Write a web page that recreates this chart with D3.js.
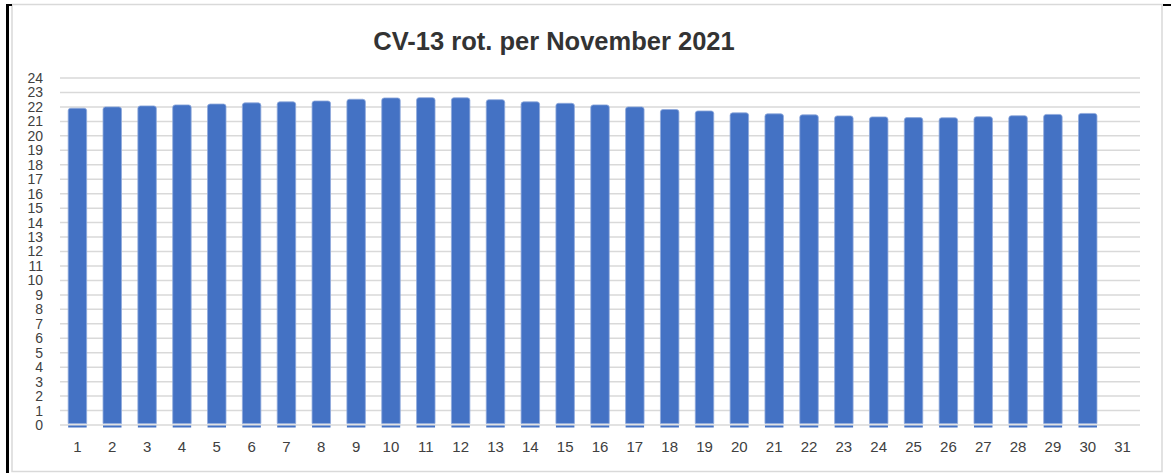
<!DOCTYPE html>
<meta charset="utf-8">
<style>
  body { margin: 0; background: #fff; }
  .axis text { font-family: "Liberation Sans", sans-serif; fill: #404040; }
  .y.axis text { font-size: 14px; }
  .x.axis text { font-size: 15px; }
  .axis path, .axis line { display: none; }
</style>
<body>
<svg class="chart"></svg>
<script src="https://cdn.jsdelivr.net/npm/d3@7/dist/d3.min.js"></script>
<script>

// Days of November, plus an empty 31
var days = d3.range(1, 32).map(String);

// CV-13 rot. values (day 31 empty)
var values = [21.91, 22.0, 22.07, 22.14, 22.2, 22.28, 22.35, 22.41, 22.53, 22.62,
              22.64, 22.63, 22.5, 22.35, 22.25, 22.14, 22.0, 21.82, 21.72, 21.59,
              21.52, 21.45, 21.38, 21.31, 21.26, 21.25, 21.32, 21.39, 21.48, 21.55];

var yTicks = d3.range(0, 25);

var W = 1171, H = 473;
var svg = d3.select(".chart").attr("width", W).attr("height", H);

// Outer frame
svg.append("rect")
    .attr("x", 12).attr("y", 4.5)
    .attr("width", 1150).attr("height", 467)
    .attr("fill", "#fff").attr("stroke", "#d9d9d9").attr("stroke-width", 1.5);

// Black edge marks on the page
svg.append("rect").attr("x", 6).attr("y", 4).attr("width", 3).attr("height", 469).attr("fill", "#000");
svg.append("rect").attr("x", 6).attr("y", 4).attr("width", 6).attr("height", 2).attr("fill", "#000");
svg.append("rect").attr("x", 1163).attr("y", 4).attr("width", 8).attr("height", 2).attr("fill", "#000");

var x = d3.scaleBand()
    .domain(days)
    .range([60, 1140])
    .paddingInner(0.47)
    .paddingOuter(0.235);

var y = d3.scaleLinear()
    .domain([0, 24])
    .range([425, 78]);

// Gridlines
svg.append("g").selectAll("line")
    .data(yTicks)
  .enter().append("line")
    .attr("x1", 60).attr("x2", 1140)
    .attr("y1", function(d) { return y(d); })
    .attr("y2", function(d) { return y(d); })
    .attr("stroke", "#d9d9d9")
    .attr("stroke-width", 1.5);

// Title
svg.append("text")
    .attr("x", 554).attr("y", 50)
    .attr("text-anchor", "middle")
    .style("font-family", "'Liberation Sans', sans-serif")
    .style("font-weight", "bold")
    .style("font-size", "25.5px")
    .style("fill", "#333")
    .text("CV-13 rot. per November 2021");

// Axes (labels only)
svg.append("g")
    .attr("class", "y axis")
    .attr("transform", "translate(60,0)")
    .call(d3.axisLeft(y).tickValues(yTicks).tickSize(0).tickPadding(17));

svg.append("g")
    .attr("class", "x axis")
    .attr("transform", "translate(0,425)")
    .call(d3.axisBottom(x).tickSize(0).tickPadding(16));

// Bars with rounded tops
function barPath(x0, y0, w, yb, r) {
  return "M" + x0 + "," + yb +
         "V" + (y0 + r) +
         "Q" + x0 + "," + y0 + " " + (x0 + r) + "," + y0 +
         "H" + (x0 + w - r) +
         "Q" + (x0 + w) + "," + y0 + " " + (x0 + w) + "," + (y0 + r) +
         "V" + yb + "Z";
}

var bars = svg.append("g");
bars.selectAll("path")
    .data(values)
  .enter().append("path")
    .attr("d", function(d, i) {
      return barPath(x(days[i]), y(d), x.bandwidth(), y(0) - 1.5, 2.5);
    })
    .attr("fill", "#4472c4")
    .attr("stroke", "#8faadc")
    .attr("stroke-width", 0.8);

// thin strip just under the zero line
bars.selectAll("rect")
    .data(values)
  .enter().append("rect")
    .attr("x", function(d, i) { return x(days[i]); })
    .attr("y", y(0) + 0.5)
    .attr("width", x.bandwidth())
    .attr("height", 2)
    .attr("fill", "#4472c4");

</script>
</body>
